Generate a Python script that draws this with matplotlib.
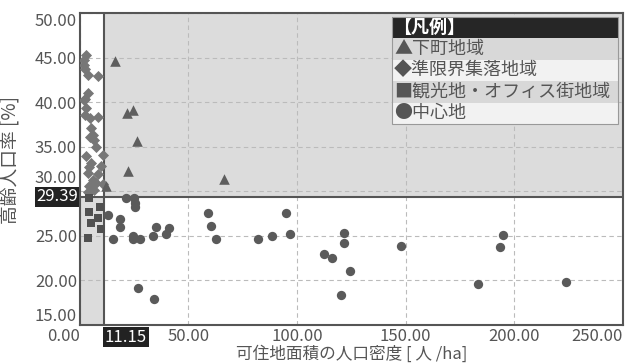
import matplotlib
matplotlib.use("Agg")
import matplotlib.pyplot as plt
from matplotlib.patches import Rectangle
from matplotlib.transforms import ScaledTranslation

plt.rcParams['font.family'] = ['Noto Sans CJK JP', 'DejaVu Sans']

# 閾値
x_th = 11.15
y_th = 29.39

# 下町地域
tri_x = [16.4, 21.9, 24.7, 26.5, 22.4, 66.2, 12.3]
tri_y = [44.6, 38.8, 39.1, 35.6, 32.3, 31.4, 30.6]

# 準限界集落地域
dia_x = [2.7, 1.8, 1.8, 2.2, 3.6, 8.2, 3.6, 2.2, 1.8, 2.7, 2.2, 4.6, 8.2, 5.0, 5.9,
         4.6, 6.4, 7.3, 10.5, 2.7, 5.0, 9.6, 4.1, 3.6, 8.2, 5.9, 7.3, 4.1, 6.4, 3.6, 10.5]
dia_y = [45.3, 44.7, 44.2, 43.7, 43.1, 42.9, 41.0, 40.4, 40.3, 39.4, 38.6, 38.2, 38.3, 37.1, 36.3,
         36.1, 35.8, 35.0, 34.1, 34.0, 33.2, 32.8, 32.7, 32.1, 31.9, 31.3, 30.9, 30.6, 30.2, 29.9, 30.8]

# 観光地・オフィス街地域
sq_x = [4.1, 4.1, 9.1, 5.0, 8.2, 9.6, 3.7]
sq_y = [29.2, 27.7, 28.2, 26.4, 27.0, 25.8, 24.8]

# 中心地
cir_x = [13.2, 18.7, 18.3, 15.5, 21.5, 25.1, 25.6, 25.6, 24.7, 24.7, 27.9, 33.8, 35.2,
         39.7, 41.1, 26.9, 34.2, 58.9, 60.3, 62.6, 82.2, 88.6, 95.0, 96.8, 112.3, 116.0,
         121.5, 121.5, 124.2, 120.1, 147.9, 183.1, 193.6, 195.0, 223.7]
cir_y = [27.3, 26.9, 26.0, 24.6, 29.2, 29.3, 28.7, 28.3, 25.0, 24.6, 24.6, 25.0, 26.0,
         25.2, 25.9, 19.2, 17.9, 27.6, 26.1, 24.6, 24.6, 25.0, 27.6, 25.2, 23.0, 22.5,
         25.3, 24.2, 21.1, 18.4, 23.9, 19.6, 23.8, 25.1, 19.8]

legend_labels = ['▲下町地域', '◆準限界集落地域', '■観光地・オフィス街地域', '●中心地']

xmin, xmax = 0, 250
ymin, ymax = 15, 50
fg = '#555555'
shade = '#dcdcdc'

fig = plt.figure(figsize=(6.28, 3.64), dpi=100)
ax = fig.add_axes([0.127, 0.107, 0.865, 0.857])
ax.set_xlim(xmin, xmax)
ax.set_ylim(ymin, ymax)

# 背景の塗り分け
ax.add_patch(Rectangle((xmin, ymin), x_th - xmin, y_th - ymin, color=shade, zorder=0, lw=0))
ax.add_patch(Rectangle((x_th, y_th), xmax - x_th, ymax - y_th, color=shade, zorder=0, lw=0))

ax.set_xticks([0, 50, 100, 150, 200, 250])
ax.set_yticks([15, 20, 25, 30, 35, 40, 45, 50])
ax.grid(True, ls=(0, (4, 3)), color='#bbbbbb', lw=0.8, zorder=1)
ax.set_axisbelow(True)

ax.axvline(x_th, color=fg, lw=1.5, zorder=2)
ax.axhline(y_th, color=fg, lw=1.5, zorder=2)

ax.scatter(dia_x, dia_y, marker='D', s=32, color='#777777', lw=0, zorder=3)
ax.scatter(sq_x, sq_y, marker='s', s=34, color='#505050', lw=0, zorder=3)
ax.scatter(tri_x, tri_y, marker='^', s=58, color='#5e5e5e', lw=0, zorder=3)
ax.scatter(cir_x, cir_y, marker='o', s=45, color='#5a5a5a', lw=0, zorder=3)

for s in ax.spines.values():
    s.set_color(fg)
    s.set_linewidth(1.5)
ax.tick_params(length=0, labelsize=12, labelcolor=fg, pad=2)
ax.set_xticklabels(['%.2f' % v for v in ax.get_xticks()])
xl = ax.get_xticklabels()
xl[0].set_ha('right')
xl[-1].set_ha('right')
ax.set_yticklabels(['%.2f' % v for v in ax.get_yticks()])
yl = ax.get_yticklabels()
yl[0].set_va('bottom')
yl[3].set_va('bottom')
yl[3].set_transform(yl[3].get_transform() + ScaledTranslation(0, 3 / 72, fig.dpi_scale_trans))
yl[-1].set_va('top')

# 閾値ラベル
ax.text(-0.003, y_th, '%.2f' % y_th, transform=ax.get_yaxis_transform(), ha='right', va='center',
        fontsize=12, color='white', bbox=dict(boxstyle='square,pad=0.08', fc='#222222', ec='none'))
ax.text(x_th + 0.4, -0.012, '%.2f' % x_th, transform=ax.get_xaxis_transform(), ha='left', va='top',
        fontsize=12, color='white', bbox=dict(boxstyle='square,pad=0.1', fc='#222222', ec='none'))

ax.set_ylabel('高齢人口率 [%]', fontsize=13.5, color=fg)
ax.yaxis.set_label_coords(-0.11, 0.53)
ax.set_xlabel('可住地面積の人口密度 [ 人 /ha]', fontsize=12, color=fg, labelpad=0)

# 凡例
lx0, lx1 = 0.575, 0.991
row_h = 0.069
top = 0.987
ax.add_patch(Rectangle((lx0, top - 0.067), lx1 - lx0, 0.067, transform=ax.transAxes,
                       fc='#262626', ec='none', zorder=5))
ax.text(lx0 + 0.002, top - 0.034, '【凡例】', transform=ax.transAxes, ha='left', va='center',
        fontsize=13, color='white', fontweight='bold', zorder=6)
y0 = top - 0.067
for i, lab in enumerate(legend_labels):
    fc = '#d8d8d8' if i % 2 == 0 else '#f2f2f2'
    ax.add_patch(Rectangle((lx0, y0 - (i + 1) * row_h), lx1 - lx0, row_h, transform=ax.transAxes,
                           fc=fc, ec='none', zorder=5))
    ax.text(lx0 + 0.004, y0 - (i + 0.5) * row_h, lab, transform=ax.transAxes, ha='left',
            va='center', fontsize=13, color=fg, zorder=6)
ax.add_patch(Rectangle((lx0, y0 - 4 * row_h), lx1 - lx0, top - y0 + 4 * row_h,
                       transform=ax.transAxes, fc='none', ec='#999999', lw=0.8, zorder=7))

fig.savefig('out.png', dpi=100)
